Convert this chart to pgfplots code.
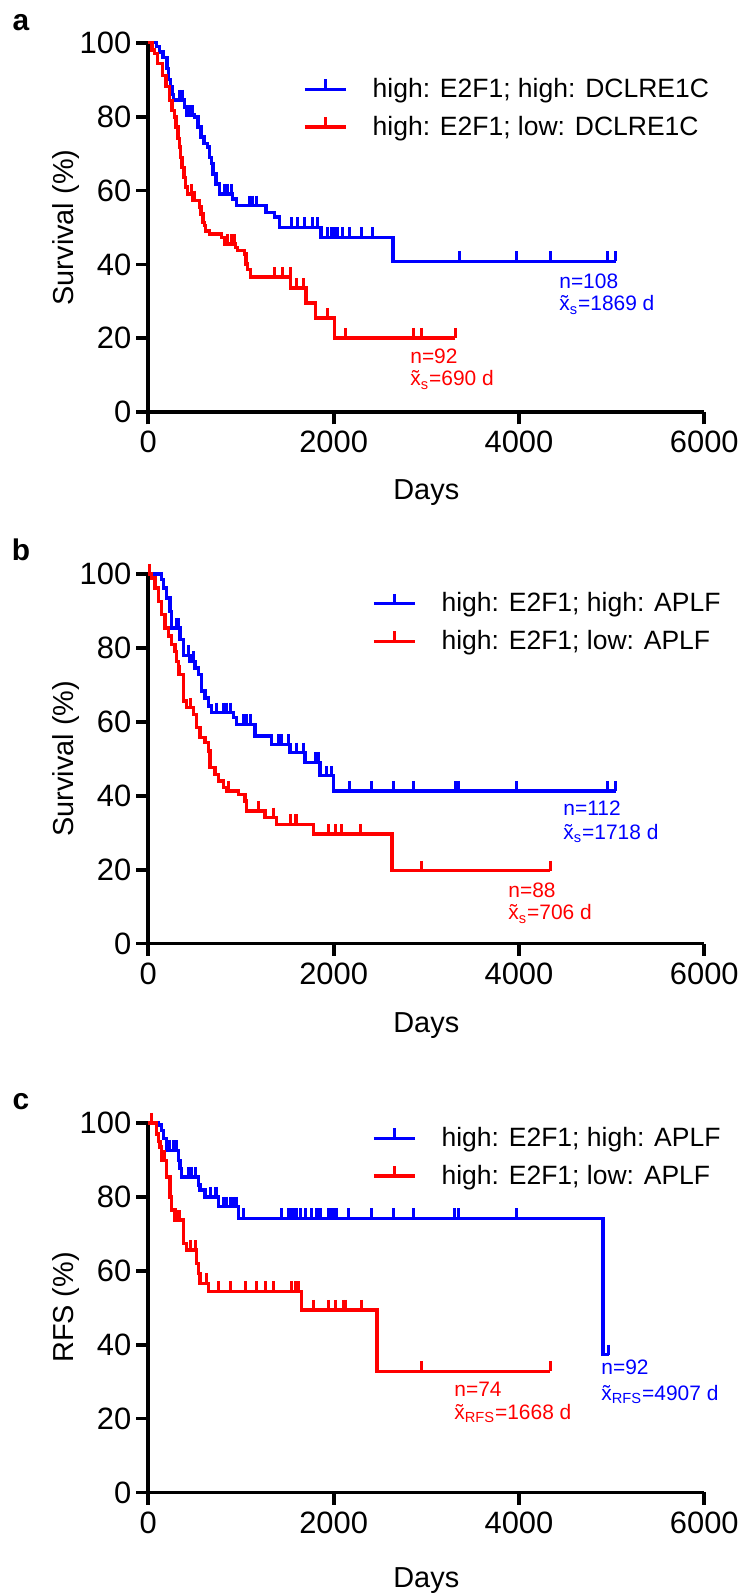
\documentclass[border=0pt]{standalone}
\usepackage{fontspec}
\setmainfont{Liberation Sans}
\usepackage{pgfplots}
\pgfplotsset{compat=1.18}
\definecolor{kmblue}{RGB}{0,0,255}
\definecolor{kmred}{RGB}{255,0,0}
\pgfplotsset{
 kmaxis/.style={
  scale only axis, width=278bp, height=184.8bp, anchor=south west,
  xmin=0, xmax=6000, ymin=0, ymax=100,
  xtick={0,2000,4000,6000}, ytick={0,20,40,60,80,100},
  axis lines=left, axis line style={-, line width=1.9bp, black},
  tick style={black, line width=1.9bp}, major tick length=6bp, tick align=outside,
  clip=false, scaled x ticks=false,
  /pgf/number format/1000 sep={}, /pgf/number format/assume math mode=true,
  ticklabel style={font=\fontsize{15.5}{17}\selectfont},
  yticklabel style={xshift=1bp},
  legend cell align=left,
  legend style={draw=none, fill=none, inner sep=0pt, font=\fontsize{13.3}{16}\selectfont,
    row sep=7.5bp, anchor=north west, nodes={inner sep=0pt},
    /tikz/every odd column/.append style={column sep=12.5bp}},
  legend image code/.code={\draw[#1] (0bp,0bp) -- (20.5bp,0bp); \draw[#1, line width=1.5bp] (10.25bp,0bp) -- (10.25bp,5bp);},
 },
 km/.style={const plot, line width=1.7bp, color=#1, mark=none, forget plot},
 cens/.style={only marks, color=#1, mark=|, mark size=2.5bp, mark options={yshift=2.5bp, line width=1.5bp, solid}, forget plot},
}
\tikzset{ann/.style={anchor=west, inner sep=0pt, font=\fontsize{10.5}{12}\selectfont, text=#1}}
\begin{document}
\begin{tikzpicture}
\useasboundingbox (0,0) rectangle (371bp,797.5bp);
% ---------------- panel a
\begin{axis}[kmaxis, at={(74.15bp,591.35bp)}, legend style={at={(0.278,0.906)}}]
\addplot[km=kmblue] coordinates {(0,100)(90,99)(120,97.5)(160,96)(200,93)(215,90)(240,88)(260,86)(275,84.5)(390,82.6)(410,80.4)(500,79.9)(535,77.2)(570,74.5)(600,72.7)(640,71.8)(660,69)(680,67.3)(700,64.5)(730,61.8)(770,59.1)(910,57.7)(950,55.9)(1270,54.1)(1360,52.8)(1415,50.0)(1865,47.3)(2640,40.8)(5047,40.8)};
\addplot[cens=kmblue] coordinates {(335,84.5)(371,84.5)(443,80.4)(479,80.4)(821,59.1)(857,59.1)(893,59.1)(1091,55.9)(1127,55.9)(1163,55.9)(1541,50)(1613,50)(1685,50)(1775,50)(1829,50)(1937,47.3)(1973,47.3)(2009,47.3)(2045,47.3)(2099,47.3)(2171,47.3)(2297,47.3)(2423,47.3)(3359,40.8)(3975,40.8)(4335,40.8)(4960,40.8)(5047,40.8)};
\addplot[km=kmred] coordinates {(0,100)(40,98)(65,97)(100,94.4)(150,91.2)(190,88.1)(230,84.4)(255,81.7)(280,79.9)(300,77.2)(320,74)(335,71.8)(350,69)(365,66.3)(385,63.6)(400,60.9)(420,59.1)(480,57.3)(550,55.5)(570,53.7)(590,51.4)(605,50.5)(620,49.1)(660,48.2)(790,47.3)(820,45.5)(940,44.6)(965,43.7)(1040,42.8)(1055,40.1)(1070,38.7)(1100,36.6)(1532,33.6)(1700,29.6)(1803,25.5)(2010,20.1)(3310,20.1)};
\addplot[cens=kmred] coordinates {(461,59.1)(497,57.3)(857,45.5)(893,45.5)(929,45.5)(1367,36.6)(1453,36.6)(1532,36.6)(1596,33.6)(1673,33.6)(1929,25.5)(2125,20.1)(2860,20.1)(2950,20.1)(3310,20.1)};
\addlegendimage{kmblue, line width=1.7bp}\addlegendentry{high: E2F1; high: DCLRE1C}
\addlegendimage{kmred, line width=1.7bp}\addlegendentry{high: E2F1; low: DCLRE1C}
\node[ann=kmblue] at (axis cs:4432,35.5) {n=108};
\node[ann=kmblue] at (axis cs:4432,29.0) {\~{x}\textsubscript{s}=1869 d};
\node[ann=kmred] at (axis cs:2824,15.2) {n=92};
\node[ann=kmred] at (axis cs:2824,8.7) {\~{x}\textsubscript{s}=690 d};
\end{axis}
% ---------------- panel b
\begin{axis}[kmaxis, at={(74.15bp,325.7bp)}, legend style={at={(0.402,0.952)}}]
\addplot[km=kmblue] coordinates {(0,100)(144,98.5)(162,96.2)(198,93.5)(234,89.9)(252,85.4)(342,82.3)(378,78)(450,76.4)(504,74.6)(540,72.8)(576,68.3)(612,66.5)(648,64.3)(684,62.5)(918,61.1)(954,59.3)(1152,56.2)(1332,53.9)(1530,51.7)(1692,49.0)(1854,45.4)(1998,41.3)(5047,41.3)};
\addplot[cens=kmblue] coordinates {(306,85.4)(324,85.4)(432,78)(486,76.4)(738,62.5)(810,62.5)(846,62.5)(882,62.5)(1026,59.3)(1062,59.3)(1098,59.3)(1404,53.9)(1440,53.9)(1512,53.9)(1602,51.7)(1674,51.7)(1800,49.0)(1836,49.0)(1926,45.4)(1980,45.4)(2169,41.3)(2414,41.3)(2645,41.3)(2862,41.3)(3310,41.3)(3350,41.3)(3975,41.3)(4960,41.3)(5047,41.3)};
\addplot[km=kmred] coordinates {(0,100)(36,98.9)(72,96.2)(108,92.6)(144,89)(180,85.4)(216,83.2)(252,80.9)(288,79.1)(306,76.4)(324,72.8)(378,65.6)(414,63.8)(486,62)(522,58.4)(558,55.7)(612,54.4)(648,52.1)(666,47.6)(720,45.8)(756,44)(810,42.2)(846,41.3)(972,40.4)(1044,38.6)(1062,35.9)(1260,34.1)(1386,32.3)(1782,29.6)(2628,19.7)(4335,19.7)};
\addplot[cens=kmred] coordinates {(18,100)(342,72.8)(450,63.8)(864,41.3)(1188,35.9)(1350,34.1)(1530,32.3)(1584,32.3)(1602,32.3)(1944,29.6)(2016,29.6)(2088,29.6)(2286,29.6)(2952,19.7)(4335,19.7)};
\addlegendimage{kmblue, line width=1.7bp}\addlegendentry{high: E2F1; high: APLF}
\addlegendimage{kmred, line width=1.7bp}\addlegendentry{high: E2F1; low: APLF}
\node[ann=kmblue] at (axis cs:4476,36.6) {n=112};
\node[ann=kmblue] at (axis cs:4476,29.8) {\~{x}\textsubscript{s}=1718 d};
\node[ann=kmred] at (axis cs:3882,14.5) {n=88};
\node[ann=kmred] at (axis cs:3882,8.0) {\~{x}\textsubscript{s}=706 d};
\end{axis}
% ---------------- panel c
\begin{axis}[kmaxis, at={(74.15bp,51.25bp)}, legend style={at={(0.402,0.990)}}]
\addplot[km=kmblue] coordinates {(0,100)(108,99.4)(144,98)(162,95.8)(198,92.6)(324,89.9)(342,87.7)(360,85.4)(540,83.2)(558,81.8)(612,80)(756,77.3)(972,74.2)(4907,37.3)(4968,37.3)};
\addplot[cens=kmblue] coordinates {(234,92.6)(270,92.6)(306,92.6)(432,85.4)(468,85.4)(504,85.4)(666,80)(720,80)(738,80)(810,77.3)(846,77.3)(882,77.3)(918,77.3)(954,77.3)(1026,74.2)(1440,74.2)(1512,74.2)(1530,74.2)(1566,74.2)(1602,74.2)(1638,74.2)(1692,74.2)(1764,74.2)(1818,74.2)(1836,74.2)(1854,74.2)(1944,74.2)(1980,74.2)(1998,74.2)(2016,74.2)(2034,74.2)(2160,74.2)(2412,74.2)(2646,74.2)(2862,74.2)(3301,74.2)(3348,74.2)(3978,74.2)(4968,37.3)};
\addplot[km=kmred] coordinates {(0,100)(90,97)(108,95)(126,93.5)(144,89.9)(198,85.4)(234,80)(252,76.4)(288,73.7)(378,67.4)(414,65.6)(522,62)(540,59.3)(558,56.6)(648,54.4)(1656,49.4)(2466,32.8)(4338,32.8)};
\addplot[cens=kmred] coordinates {(36,100)(170,89.9)(324,73.7)(342,73.7)(450,65.6)(504,65.6)(630,56.6)(756,54.4)(882,54.4)(1044,54.4)(1170,54.4)(1260,54.4)(1350,54.4)(1548,54.4)(1584,54.4)(1620,54.4)(1782,49.4)(1944,49.4)(2016,49.4)(2106,49.4)(2124,49.4)(2304,49.4)(2952,32.8)(4338,32.8)};
\addlegendimage{kmblue, line width=1.7bp}\addlegendentry{high: E2F1; high: APLF}
\addlegendimage{kmred, line width=1.7bp}\addlegendentry{high: E2F1; low: APLF}
\node[ann=kmblue] at (axis cs:4886,33.8) {n=92};
\node[ann=kmblue] at (axis cs:4886,26.6) {\~{x}\textsubscript{RFS}=4907 d};
\node[ann=kmred] at (axis cs:3299,27.9) {n=74};
\node[ann=kmred] at (axis cs:3299,21.3) {\~{x}\textsubscript{RFS}=1668 d};
\end{axis}
% ---------------- labels (pixel coordinates of the reference)
\begin{scope}[shift={(0bp,797.5bp)}, x=0.5bp, y=-0.5bp]
\node[font=\bfseries\fontsize{15}{16}\selectfont] at (21,23) {a};
\node[font=\bfseries\fontsize{15}{16}\selectfont] at (21,550) {b};
\node[font=\bfseries\fontsize{15}{16}\selectfont] at (21,1102) {c};
\node[rotate=90, font=\fontsize{14.5}{16}\selectfont] at (66,227.5) {Survival (\%)};
\node[rotate=90, font=\fontsize{14.5}{16}\selectfont] at (66,758.8) {Survival (\%)};
\node[rotate=90, font=\fontsize{14.5}{16}\selectfont] at (66,1307.5) {RFS (\%)};
\node[anchor=base, font=\fontsize{14.5}{16}\selectfont] at (426.3,500) {Days};
\node[anchor=base, font=\fontsize{14.5}{16}\selectfont] at (426.3,1033) {Days};
\node[anchor=base, font=\fontsize{14.5}{16}\selectfont] at (426.3,1588) {Days};
\end{scope}
\end{tikzpicture}
\end{document}
